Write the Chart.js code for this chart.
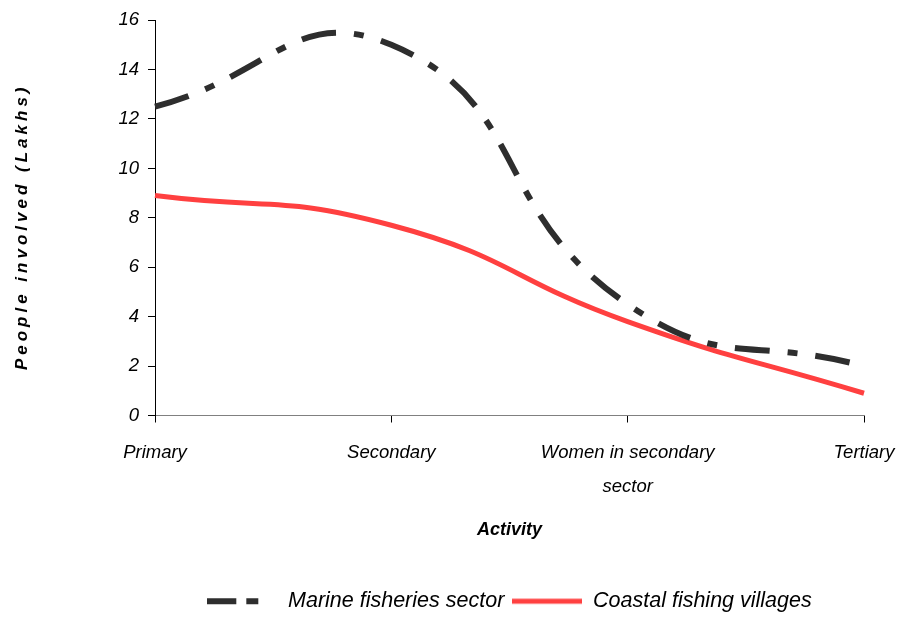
<!DOCTYPE html>
<html lang="en">
<head>
  <meta charset="UTF-8" />
  <title>People involved by activity</title>
  <script src="https://cdn.jsdelivr.net/npm/chart.js"></script>
  <style>
    * { box-sizing: border-box; margin: 0; padding: 0; }
    body { background: #fff; width: 898px; height: 618px; overflow: hidden; }
    #wrap { width: 898px; height: 618px; }
  </style>
</head>
<body>
  <div id="wrap"><canvas id="chart" width="898" height="618"></canvas></div>

  <script>
    // data
    const activities = ['Primary', 'Secondary', ['Women in secondary', 'sector'], 'Tertiary'];
    const marineFisheries = [12.5, 15.0, 4.5, 2.0];
    const coastalVillages = [8.9, 7.7, 3.8, 0.9];
    const yTicks = [0, 2, 4, 6, 8, 10, 12, 14, 16];

    const FONT = "'Liberation Sans', Arial, sans-serif";
    const DARK = '#2e2e2e';
    const RED = '#ff4040';
    const DASH = [35, 18, 10, 18];
    const LEGEND_DASH = [29, 10, 12, 19];

    // little line sample for the legend, so the dash shows up there too
    function legendSample(color, width, dash) {
      const c = document.createElement('canvas');
      c.width = 70;
      c.height = 8;
      const g = c.getContext('2d');
      g.strokeStyle = color;
      g.lineWidth = width;
      g.setLineDash(dash);
      g.beginPath();
      g.moveTo(0, 4);
      g.lineTo(70, 4);
      g.stroke();
      return c;
    }

    // y axis title, drawn by hand so it can get the wide letter spacing
    const yTitlePlugin = {
      id: 'yTitle',
      afterDraw(chart) {
        const ctx = chart.ctx;
        const area = chart.chartArea;
        ctx.save();
        ctx.translate(22, (area.top + area.bottom) / 2 + 9);
        ctx.rotate(-Math.PI / 2);
        ctx.font = 'italic bold 17px ' + FONT;
        ctx.letterSpacing = '4px';
        ctx.fillStyle = '#000';
        ctx.textAlign = 'center';
        ctx.textBaseline = 'middle';
        ctx.fillText('People involved (Lakhs)', 0, 0);
        ctx.restore();
      }
    };

    const ctx = document.getElementById('chart').getContext('2d');
    new Chart(ctx, {
      type: 'line',
      data: {
        labels: activities,
        datasets: [{
          label: 'Marine fisheries sector',
          data: marineFisheries,
          borderColor: DARK,
          backgroundColor: DARK,
          borderWidth: 6,
          borderDash: DASH,
          tension: 0.5,
          pointRadius: 0,
          fill: false
        }, {
          label: 'Coastal fishing villages',
          data: coastalVillages,
          borderColor: RED,
          backgroundColor: RED,
          borderWidth: 5,
          tension: 0.5,
          pointRadius: 0,
          fill: false
        }]
      },
      options: {
        responsive: false,
        animation: false,
        elements: { line: { capBezierPoints: false } },
        layout: { padding: { top: 19, right: 34, left: 0, bottom: -4 } },
        plugins: {
          tooltip: { enabled: false },
          legend: {
            position: 'bottom',
            fullSize: false,
            labels: {
              usePointStyle: true,
              pointStyleWidth: 70,
              padding: 8,
              color: '#000',
              font: { family: FONT, size: 21.5, style: 'italic' },
              generateLabels(chart) {
                return chart.data.datasets.map((ds, i) => ({
                  text: ds.label,
                  datasetIndex: i,
                  fontColor: '#000',
                  lineWidth: 0,
                  pointStyle: legendSample(ds.borderColor, ds.borderWidth, ds.borderDash ? LEGEND_DASH : [])
                }));
              }
            }
          }
        },
        scales: {
          x: {
            offset: false,
            grid: { drawOnChartArea: false, drawTicks: true, tickLength: 7, color: '#000' },
            border: { display: true, color: '#808080', width: 1 },
            ticks: {
              color: '#000',
              padding: 14,
              maxRotation: 0,
              autoSkip: false,
              font: { family: FONT, size: 18.5, style: 'italic', lineHeight: 1.8 }
            },
            title: {
              display: true,
              text: 'Activity',
              color: '#000',
              padding: { top: 0, bottom: 42 },
              font: { family: FONT, size: 18, style: 'italic', weight: 'bold' }
            },
            afterFit(scale) {
              scale.height = 167;
              scale.paddingLeft = 0;
              scale.paddingRight = 0;
            }
          },
          y: {
            min: yTicks[0],
            max: yTicks[yTicks.length - 1],
            afterBuildTicks(scale) { scale.ticks = yTicks.map(v => ({ value: v })); },
            grid: { drawOnChartArea: false, drawTicks: true, tickLength: 7, color: '#000' },
            border: { display: true, color: '#000', width: 1 },
            ticks: {
              color: '#000',
              padding: 9,
              font: { family: FONT, size: 18.5, style: 'italic' }
            },
            afterFit(scale) { scale.width = 155; }
          }
        }
      },
      plugins: [yTitlePlugin]
    });
  </script>
</body>
</html>
